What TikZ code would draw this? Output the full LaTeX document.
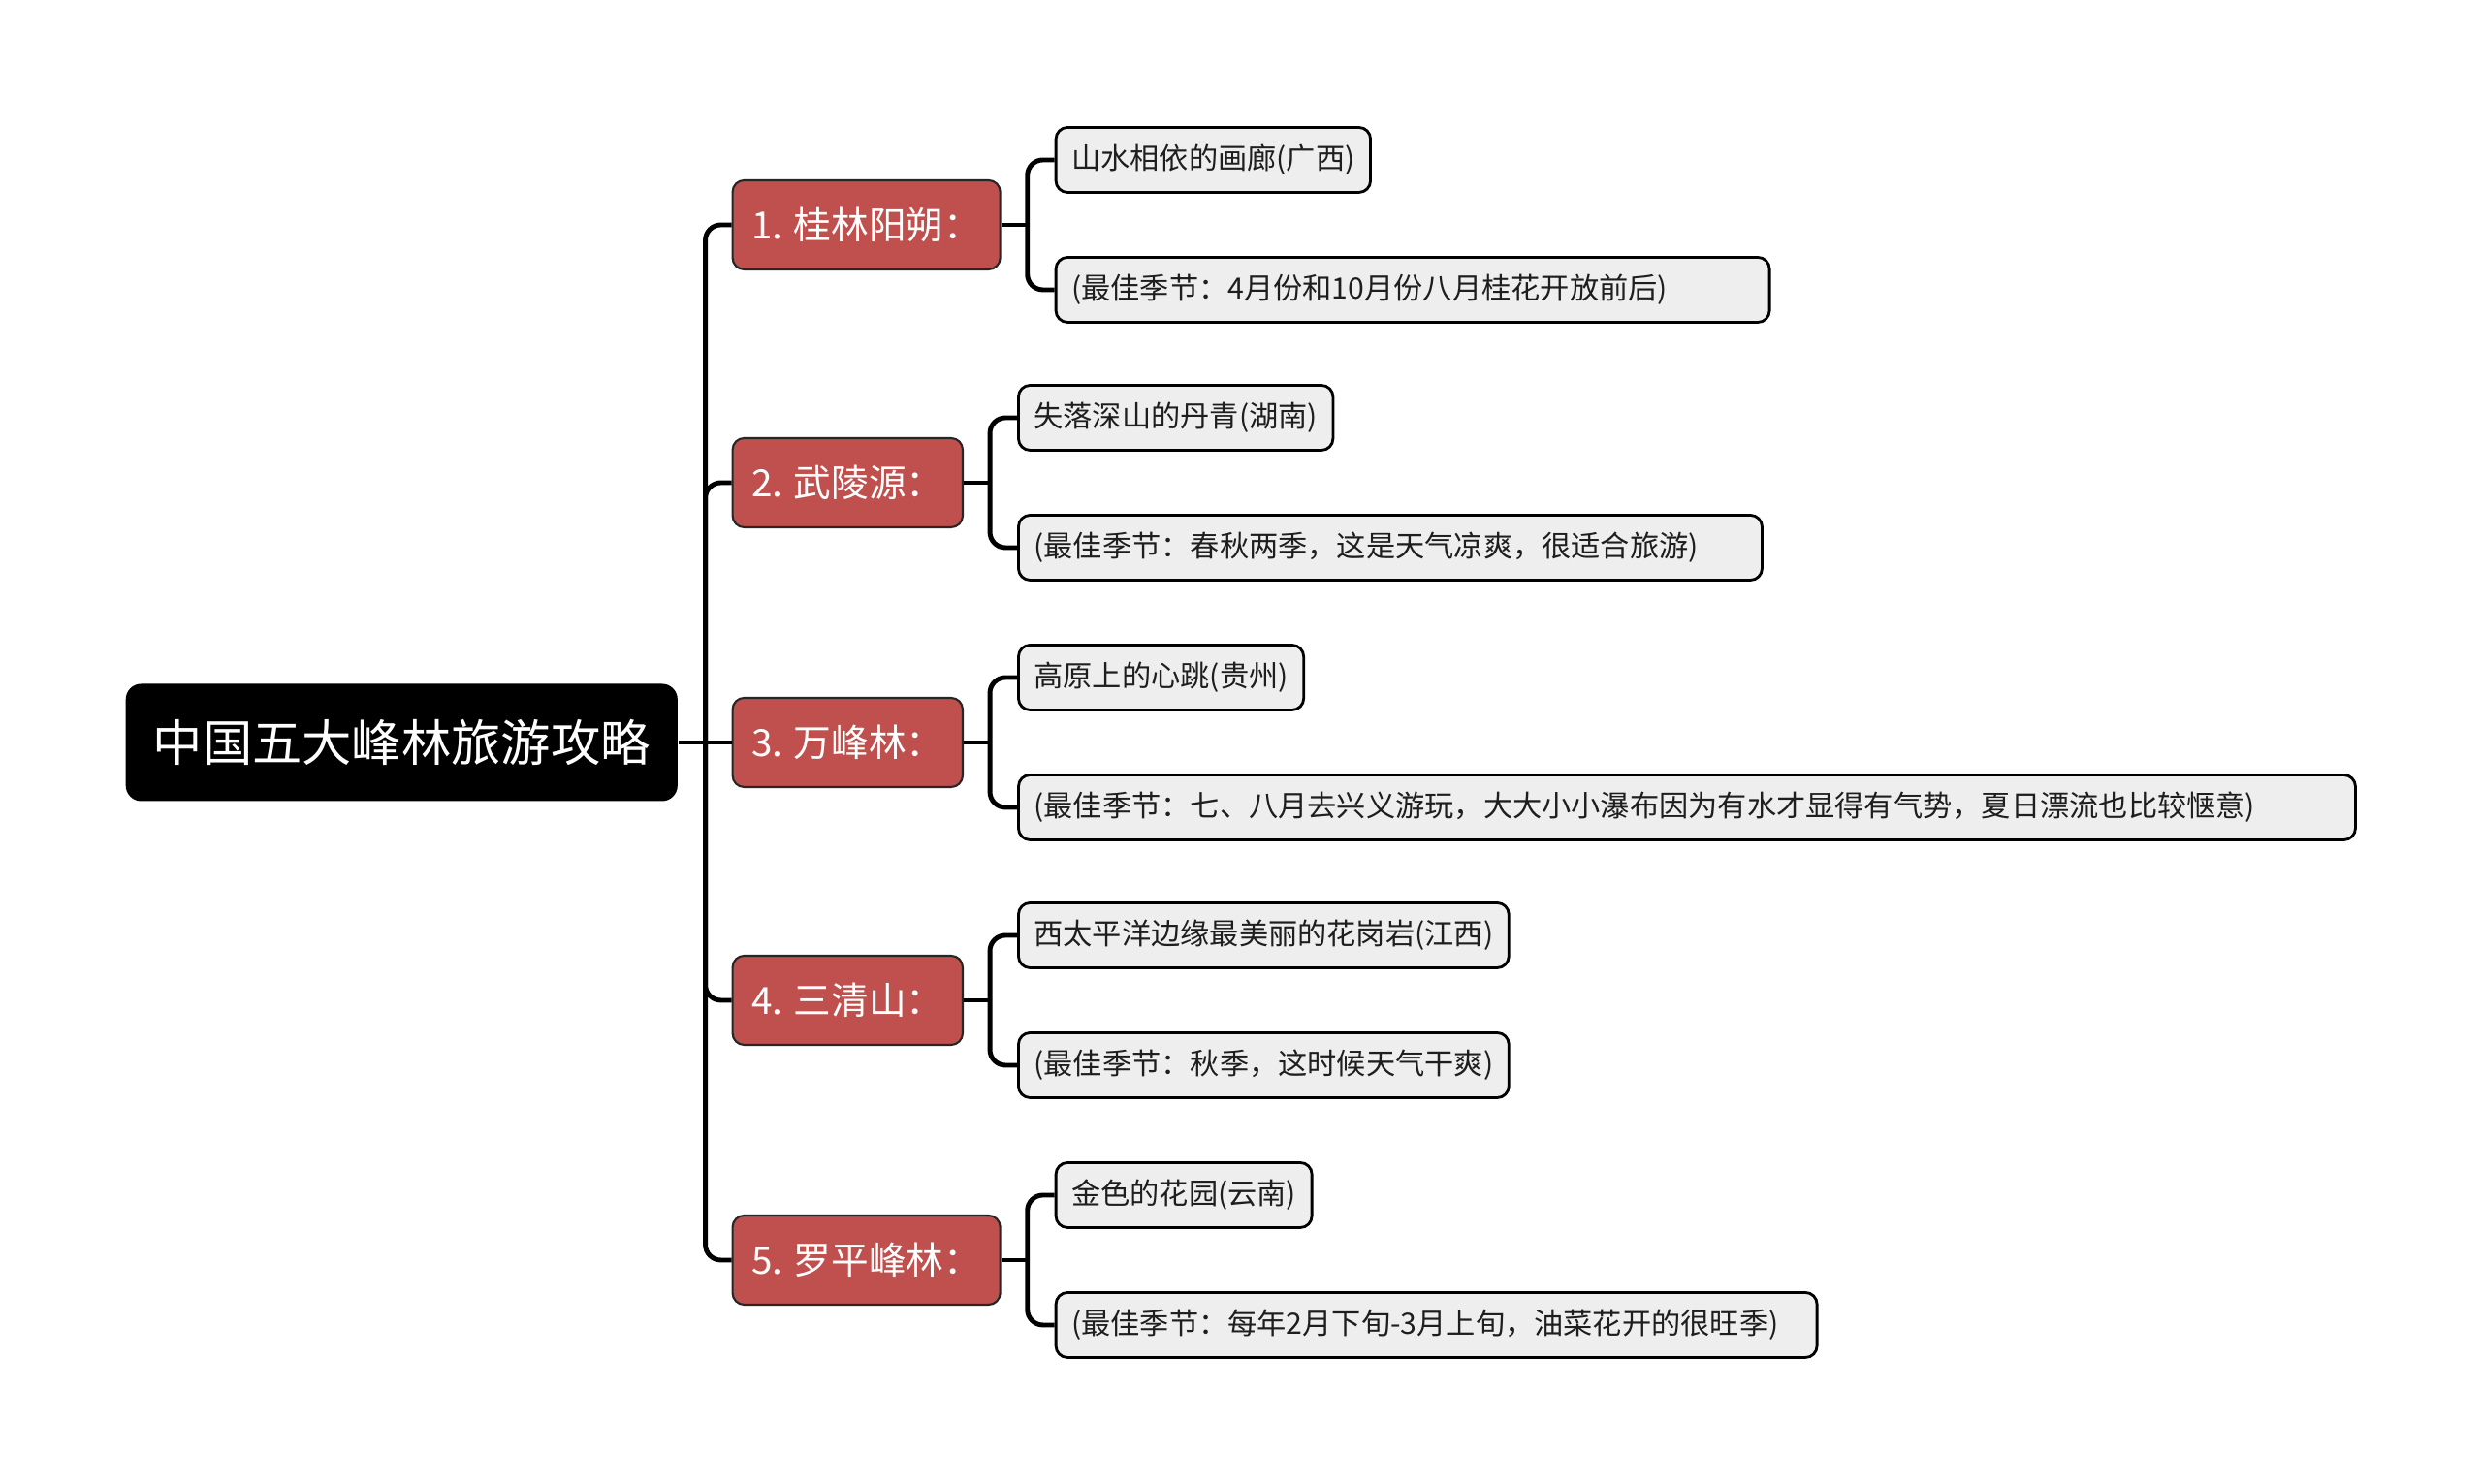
\documentclass[tikz,border=0pt]{standalone}
\usepackage{fontspec}
\setmainfont{Noto Sans CJK SC}
\usetikzlibrary{positioning,calc}
\definecolor{TopicRed}{RGB}{192,80,77}
\definecolor{LeafGray}{RGB}{238,238,238}
\definecolor{LeafText}{RGB}{30,30,30}
\tikzset{
	rootbox/.style={fill=black, text=white, rounded corners=1.6mm, inner xsep=2.8mm,
		minimum height=12.1mm, font=\fontsize{14.6}{16}\selectfont},
	topicbox/.style={draw=black!85, line width=0.6pt, fill=TopicRed, text=white,
		rounded corners=1.2mm, inner xsep=1.95mm, minimum height=9.2mm,
		font=\fontsize{11}{13}\selectfont},
	leafbox/.style={draw=black, line width=0.8pt, fill=LeafGray, text=LeafText,
		rounded corners=1.2mm, inner xsep=1.6mm, minimum height=6.7mm,
		font=\fontsize{8.6}{10}\selectfont},
	branch/.style={line width=1.4pt, draw=black, rounded corners=1.6mm}
}

\begin{document}
\begin{tikzpicture}
		\useasboundingbox (0,0) rectangle (25.6,15.31);
		\node[rootbox, anchor=west] (root) at (1.29,7.65) {中国五大峰林旅游攻略};
		\coordinate (hub) at ($(root.east)+(0.28,0)$);
		% first level
		\node[topicbox, right=0.55cm of root] (t3) {3. 万峰林：};
		\node[topicbox, anchor=west] (t2) at ($(t3.west)+(0,2.68)$) {2. 武陵源：};
		\node[topicbox, anchor=west] (t1) at ($(t3.west)+(0,5.34)$) {1. 桂林阳朔：};
		\node[topicbox, anchor=west] (t4) at ($(t3.west)+(0,-2.66)$) {4. 三清山：};
		\node[topicbox, anchor=west] (t5) at ($(t3.west)+(0,-5.34)$) {5. 罗平峰林：};
		\coordinate (j1) at ($(t1.east)+(0.27,0)$);
		\coordinate (j2) at ($(t2.east)+(0.27,0)$);
		\coordinate (j3) at ($(t3.east)+(0.27,0)$);
		\coordinate (j4) at ($(t4.east)+(0.27,0)$);
		\coordinate (j5) at ($(t5.east)+(0.27,0)$);
		% leaves
		\node[leafbox, anchor=west] (l1a) at ($(j1)+(0.28,0.67)$) {山水相依的画廊(广西)};
		\node[leafbox, anchor=west, text width=7.04cm] (l1b) at ($(j1)+(0.28,-0.67)$) {(最佳季节：4月份和10月份八月桂花开放前后)};
		\node[leafbox, anchor=west] (l2a) at ($(j2)+(0.28,0.67)$) {失落深山的丹青(湖南)};
		\node[leafbox, anchor=west, text width=7.35cm] (l2b) at ($(j2)+(0.28,-0.67)$) {(最佳季节：春秋两季，这是天气凉爽，很适合旅游)};
		\node[leafbox, anchor=west] (l3a) at ($(j3)+(0.28,0.67)$) {高原上的心跳(贵州)};
		\node[leafbox, anchor=west, text width=13.47cm] (l3b) at ($(j3)+(0.28,-0.67)$) {(最佳季节：七、八月去兴义游玩，大大小小瀑布因为有水才显得有气势，夏日漂流也比较惬意)};
		\node[leafbox, anchor=west] (l4a) at ($(j4)+(0.28,0.67)$) {西太平洋边缘最美丽的花岗岩(江西)};
		\node[leafbox, anchor=west] (l4b) at ($(j4)+(0.28,-0.67)$) {(最佳季节：秋季，这时候天气干爽)};
		\node[leafbox, anchor=west] (l5a) at ($(j5)+(0.28,0.67)$) {金色的花园(云南)};
		\node[leafbox, anchor=west, text width=7.53cm] (l5b) at ($(j5)+(0.28,-0.67)$) {(最佳季节：每年2月下旬-3月上旬，油菜花开的很旺季)};
		% connectors
		\draw[branch] (root.east) -- (hub);
		\draw[branch] (hub) |- (t1.west);
		\draw[branch] (hub) |- (t2.west);
		\draw[branch] (hub) -- (t3.west);
		\draw[branch] (hub) |- (t4.west);
		\draw[branch] (hub) |- (t5.west);
		\draw[branch] (t1.east) -- (j1);
		\draw[branch] (j1) |- (l1a.west);
		\draw[branch] (j1) |- (l1b.west);
		\draw[branch] (t2.east) -- (j2);
		\draw[branch] (j2) |- (l2a.west);
		\draw[branch] (j2) |- (l2b.west);
		\draw[branch] (t3.east) -- (j3);
		\draw[branch] (j3) |- (l3a.west);
		\draw[branch] (j3) |- (l3b.west);
		\draw[branch] (t4.east) -- (j4);
		\draw[branch] (j4) |- (l4a.west);
		\draw[branch] (j4) |- (l4b.west);
		\draw[branch] (t5.east) -- (j5);
		\draw[branch] (j5) |- (l5a.west);
		\draw[branch] (j5) |- (l5b.west);
	\end{tikzpicture}
\end{document}
